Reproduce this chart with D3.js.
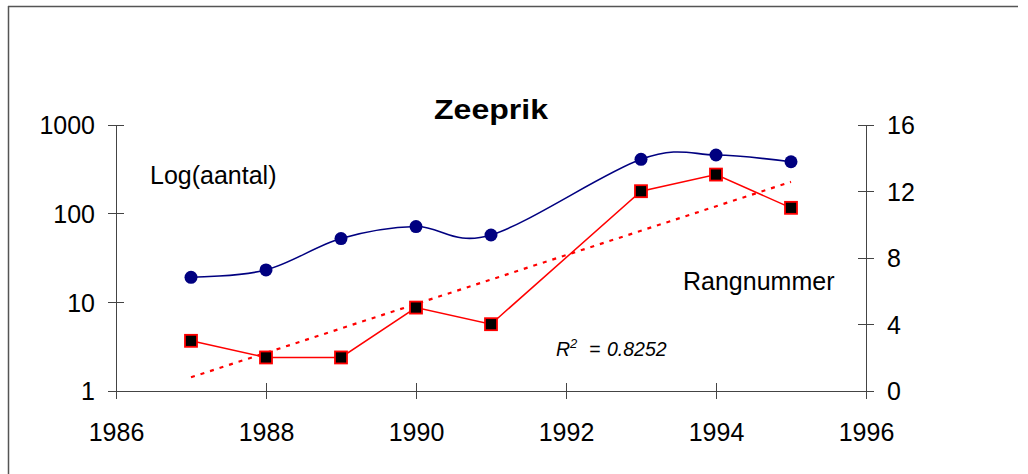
<!DOCTYPE html>
<html>
<head>
<meta charset="utf-8">
<script src="https://cdn.jsdelivr.net/npm/d3@7"></script>
<style>
  html, body { margin: 0; padding: 0; background: #fff; }
  svg { display: block; font-family: "Liberation Sans", Arial, sans-serif; }
  .axis path, .axis line { stroke: #444; stroke-width: 1.2; shape-rendering: crispEdges; }
  .axis text { fill: #000; font-size: 25px; }
</style>
</head>
<body>
<svg id="chart" width="1028" height="474"></svg>
<script>
// Zeeprik: aantal (log, left) en rangnummer (right)
const years = [1987, 1988, 1989, 1990, 1991, 1993, 1994, 1995];
const aantal = [19, 23, 52, 71, 57, 407, 455, 382];
const rang = [3, 2, 2, 5, 4, 12, 13, 11];
const yearTicks = [1986, 1988, 1990, 1992, 1994, 1996];
const logTicks = [1, 10, 100, 1000];
const rangTicks = [0, 4, 8, 12, 16];

const svg = d3.select('#chart');
const plotLeft = 116, plotRight = 866, plotTop = 124.7, plotBottom = 390.7;

const x = d3.scaleLinear().domain([1986, 1996]).range([plotLeft, plotRight]);
const yLog = d3.scaleLog().domain([1, 1000]).range([plotBottom, plotTop]);
const yRang = d3.scaleLinear().domain([0, 16]).range([plotBottom, plotTop]);

// frame (top and left edges only, like the reference)
svg.append('line').attr('x1', 8).attr('x2', 1018).attr('y1', 6.5).attr('y2', 6.5).attr('stroke', '#555').attr('stroke-width', 1.5);
svg.append('line').attr('x1', 8.5).attr('x2', 8.5).attr('y1', 6).attr('y2', 474).attr('stroke', '#555').attr('stroke-width', 1.5);

// axes: ticks cross the axis line
const gx = svg.append('g').attr('class', 'axis').attr('transform', `translate(0,${plotBottom})`)
    .call(d3.axisBottom(x).tickValues(yearTicks).tickFormat(d3.format('d')).tickSizeInner(8).tickSizeOuter(0).tickPadding(25));
gx.selectAll('.tick line').attr('y1', -8);

const gl = svg.append('g').attr('class', 'axis').attr('transform', `translate(${plotLeft},0)`)
    .call(d3.axisLeft(yLog).tickValues(logTicks).tickFormat(d3.format('d')).tickSizeInner(8).tickSizeOuter(0).tickPadding(13));
gl.selectAll('.tick line').attr('x1', 8);

const gr = svg.append('g').attr('class', 'axis').attr('transform', `translate(${plotRight},0)`)
    .call(d3.axisRight(yRang).tickValues(rangTicks).tickSizeInner(8).tickSizeOuter(0).tickPadding(13));
gr.selectAll('.tick line').attr('x1', -8);

svg.selectAll('.axis .tick text').attr('dy', '0.36em');
gx.selectAll('.tick text').attr('dy', '0.71em');

// linear trend of rangnummer (Excel-style trendline)
const xm = d3.mean(years), ym = d3.mean(rang);
const slope = d3.sum(years, (d, i) => (d - xm) * (rang[i] - ym)) / d3.sum(years, d => (d - xm) ** 2);
const trendYears = [d3.min(years), d3.max(years)];
svg.append('path')
    .attr('d', d3.line().x(d => x(d)).y(d => yRang(ym + slope * (d - xm)))(trendYears))
    .attr('fill', 'none').attr('stroke', '#ff0000').attr('stroke-width', 2.2).attr('stroke-dasharray', '4,6');

// rangnummer series
svg.append('path')
    .attr('d', d3.line().x((d, i) => x(years[i])).y(d => yRang(d))(rang))
    .attr('fill', 'none').attr('stroke', '#ff0000').attr('stroke-width', 1.5);
svg.append('g').selectAll('rect').data(rang).join('rect')
    .attr('x', (d, i) => x(years[i]) - 6).attr('y', d => yRang(d) - 6)
    .attr('width', 12).attr('height', 12)
    .attr('fill', '#000').attr('stroke', '#ff0000').attr('stroke-width', 1.8);

// aantal series (smoothed)
svg.append('path')
    .attr('d', d3.line().x((d, i) => x(years[i])).y(d => yLog(d)).curve(d3.curveCardinal.tension(0))(aantal))
    .attr('fill', 'none').attr('stroke', '#000080').attr('stroke-width', 1.6);
svg.append('g').selectAll('circle').data(aantal).join('circle')
    .attr('cx', (d, i) => x(years[i])).attr('cy', d => yLog(d)).attr('r', 6.5)
    .attr('fill', '#000080');

// labels
svg.append('text').attr('x', 434).attr('y', 119).attr('font-size', 27).attr('font-weight', 'bold')
    .attr('textLength', 114).attr('lengthAdjust', 'spacingAndGlyphs').text('Zeeprik');
svg.append('text').attr('x', 150).attr('y', 184).attr('font-size', 25).text('Log(aantal)');
svg.append('text').attr('x', 683).attr('y', 290).attr('font-size', 25).text('Rangnummer');

const r2 = svg.append('text').attr('y', 356).attr('font-size', 19.5).attr('font-style', 'italic');
r2.append('tspan').attr('x', 556).text('R');
r2.append('tspan').attr('dy', -8).attr('font-size', 13).text('2');
r2.append('tspan').attr('dy', 8).attr('x', 589).text('=');
r2.append('tspan').attr('x', 607).text('0.8252');
</script>
</body>
</html>
